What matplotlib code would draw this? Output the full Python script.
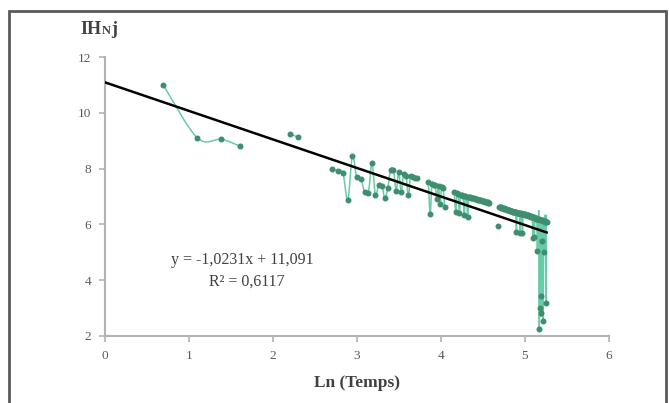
import numpy as np
import matplotlib.pyplot as plt
from matplotlib.path import Path
from matplotlib.patches import PathPatch, Rectangle

plt.rcParams['font.family'] = ['Liberation Serif', 'DejaVu Serif']

# time steps (series is plotted against ln(t)); gaps in t = missing values
temps = ([2, 3, 4, 5] + [9, 10] + list(range(15, 42)) + list(range(47, 58))
         + list(range(64, 98)) + [107] + list(range(109, 193)))

ihnj = [11.0, 9.1, 9.05, 8.8,
        9.25, 9.12,
        # t 15..41
        7.99, 7.91, 7.85, 6.87, 8.45, 7.69, 7.64, 7.17, 7.14, 8.19,
        7.05, 7.42, 7.39, 6.94, 7.32, 7.95, 7.95, 7.21, 7.87, 7.17,
        7.80, 7.75, 7.05, 7.72, 7.70, 7.68, 7.65,
        # t 47..57
        7.51, 6.37, 7.45, 7.43, 7.40, 6.90, 7.38, 6.73, 7.35, 7.32, 6.62,
        # t 64..97
        7.16, 6.45, 7.12, 7.10, 6.41, 7.07, 7.05, 7.03, 6.34, 7.02,
        7.00, 6.28, 6.98, 6.97, 6.96, 6.95, 6.94, 6.93, 6.92, 6.91,
        6.90, 6.89, 6.88, 6.87, 6.86, 6.85, 6.84, 6.83, 6.82, 6.81,
        6.80, 6.79, 6.78, 6.77,
        # t 107
        5.95,
        # t 109..192
        6.63, 6.62, 6.61, 6.60, 6.59, 6.58, 6.57, 6.56, 6.56, 6.55,
        6.54, 6.53, 6.52, 6.51, 6.50, 6.49, 6.49, 6.48, 6.47, 6.46,
        6.45, 6.45, 6.44, 6.43, 6.43, 5.74, 6.42, 6.42, 6.41, 6.41,
        6.40, 5.70, 6.40, 6.39, 6.39, 5.68, 6.38, 6.37, 6.37, 6.36,
        6.35, 6.35, 6.34, 6.33, 6.33, 6.32, 6.31, 6.31, 6.30, 6.29,
        6.29, 6.28, 6.27, 6.27, 5.51, 6.25, 6.25, 5.54, 6.23, 6.23,
        6.22, 6.21, 6.21, 5.06, 6.19, 6.19, 6.18, 2.25, 6.17, 3.01,
        3.43, 2.81, 6.14, 5.42, 6.13, 2.54, 6.12, 5.00, 6.11, 6.11,
        6.10, 3.17, 6.10, 6.09]

slope, intercept = -1.0231, 11.091
eq_text = 'y = -1,0231x + 11,091'
r2_text = 'R² = 0,6117'

x = np.log(np.array(temps, dtype=float))
y = np.array(ihnj)

line_col = '#6acba8'
dot_col = '#3f8e70'
grey = '#595959'


def smooth_path(px, py):
    # excel-like smoothed line: cubic bezier through the points
    n = len(px)
    verts = [(px[0], py[0])]
    codes = [Path.MOVETO]
    for i in range(n - 1):
        i0 = max(i - 1, 0)
        i3 = min(i + 2, n - 1)
        c1 = (px[i] + (px[i + 1] - px[i0]) / 6, py[i] + (py[i + 1] - py[i0]) / 6)
        c2 = (px[i + 1] - (px[i3] - px[i]) / 6, py[i + 1] - (py[i3] - py[i]) / 6)
        verts += [c1, c2, (px[i + 1], py[i + 1])]
        codes += [Path.CURVE4] * 3
    return Path(verts, codes)


fig = plt.figure(figsize=(6.69, 4.03), dpi=100)
ax = fig.add_axes([105 / 669, 1 - 336 / 403, 504 / 669, 279 / 403])

# split into runs where time steps are missing
t_arr = np.array(temps)
breaks = np.where(np.diff(t_arr) > 1)[0] + 1
for sx, sy in zip(np.split(x, breaks), np.split(y, breaks)):
    if len(sx) > 1:
        ax.add_patch(PathPatch(smooth_path(sx, sy), fc='none', ec=line_col, lw=1.1, zorder=2))
ax.plot(x, y, 'o', color=dot_col, ms=3.3, zorder=3)

xt = np.array([0, x.max()])
ax.plot(xt, slope * xt + intercept, color='black', lw=1.8, zorder=4)

ax.set_xlim(0, 6)
ax.set_ylim(2, 12)
ax.set_xticks(range(0, 7))
ax.set_yticks(range(2, 13, 2))
for s in ['top', 'right']:
    ax.spines[s].set_visible(False)
for s in ['left', 'bottom']:
    ax.spines[s].set_color('#b3b3b3')
    ax.spines[s].set_linewidth(1.5)
ax.tick_params(colors='#b3b3b3', labelcolor=grey, labelsize=9.5, length=4, width=1.2)
ax.tick_params(axis='x', pad=6)
ax.tick_params(axis='y', pad=6)

ax.text(1.64, 4.58, eq_text, fontsize=11.5, color='#404040', ha='center', va='baseline')
ax.text(1.69, 3.79, r2_text, fontsize=11.5, color='#404040', ha='center', va='baseline')

fig.text(357 / 669, 1 - 383 / 403, 'Ln (Temps)', ha='center', va='center',
         fontsize=12.5, fontweight='bold', color='#404040')

t1 = fig.text(80 / 669, 1 - 34 / 403, 'IH', fontsize=13, fontweight='bold',
              color='#404040', va='baseline')
t2 = ax.annotate('N', xy=(1, 0), xycoords=t1, xytext=(0.5, 0.6), textcoords='offset points',
                 fontsize=9, fontweight='bold', color='#404040', va='bottom',
                 annotation_clip=False)
t3 = ax.annotate('j', xy=(1, 0), xycoords=t2, xytext=(0, -0.6), textcoords='offset points',
                 fontsize=13, fontweight='bold', color='#404040', va='bottom',
                 annotation_clip=False)

fig.patches.append(Rectangle((9 / 669, -0.05), 657 / 669, 1 - 11 / 403 + 0.05,
                             transform=fig.transFigure, fill=False, ec='#5a5a5a', lw=2))

fig.savefig('out.png', dpi=100)
